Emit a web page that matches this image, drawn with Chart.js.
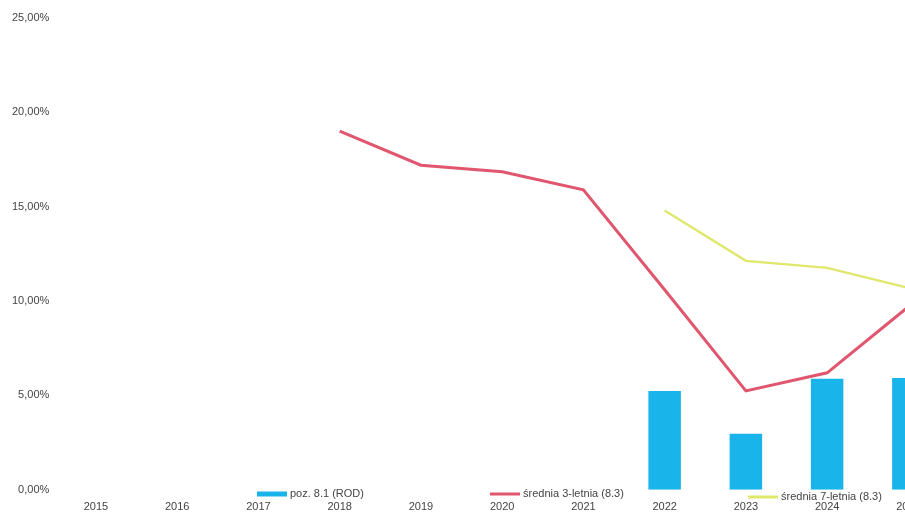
<!DOCTYPE html>
<html>
<head>
<meta charset="utf-8">
<script src="https://cdn.jsdelivr.net/npm/chart.js@4.4.1/dist/chart.umd.min.js"></script>
<style>
  html, body { margin: 0; padding: 0; background: #fff; overflow: hidden; }
  #wrap { position: relative; width: 953px; height: 525px; }
</style>
</head>
<body>
<div id="wrap"><canvas id="chart"></canvas></div>
<script>
const years = ['2015', '2016', '2017', '2018', '2019', '2020', '2021', '2022', '2023', '2024', '2025'];
const poz81 = [null, null, null, null, null, null, null, 5.24, 2.97, 5.88, 5.93];
const avg3 = [null, null, null, 19.0, 17.2, 16.85, 15.9, 10.6, 5.24, 6.2, 9.7];
const avg7 = [null, null, null, null, null, null, null, 14.8, 12.13, 11.76, 10.7];
const yTicks = [0, 5, 10, 15, 20, 25];

const fmt = v => v.toFixed(2).replace('.', ',') + '%';

// legend drawn on top of the axis area like in the scanned original
const overlayLegend = {
  id: 'overlayLegend',
  afterDraw(chart) {
    const ctx = chart.ctx;
    const items = [
      { x: 257, y: 494, color: '#18b4ea', h: 5, text: 'poz. 8.1 (ROD)' },
      { x: 490, y: 494, color: '#e0566e', h: 3, text: 'średnia 3-letnia (8.3)' },
      { x: 748, y: 497, color: '#dfe86a', h: 3, text: 'średnia 7-letnia (8.3)' }
    ];
    ctx.save();
    ctx.font = '11px "Liberation Sans", Arial, sans-serif';
    ctx.textBaseline = 'middle';
    items.forEach(it => {
      ctx.fillStyle = it.color;
      ctx.fillRect(it.x, it.y - it.h / 2, 30, it.h);
      ctx.fillStyle = '#444';
      ctx.fillText(it.text, it.x + 33, it.y);
    });
    ctx.restore();
  }
};

new Chart(document.getElementById('chart'), {
  data: {
    labels: years,
    datasets: [
      {
        type: 'line',
        label: 'średnia 3-letnia (8.3)',
        data: avg3,
        borderColor: '#e0566e',
        borderWidth: 3,
        pointRadius: 0,
        tension: 0,
        order: 1
      },
      {
        type: 'line',
        label: 'średnia 7-letnia (8.3)',
        data: avg7,
        borderColor: '#dfe86a',
        borderWidth: 2.5,
        pointRadius: 0,
        tension: 0,
        order: 2
      },
      {
        type: 'bar',
        label: 'poz. 8.1 (ROD)',
        data: poz81,
        backgroundColor: '#18b4ea',
        barPercentage: 0.4,
        categoryPercentage: 1,
        order: 3
      }
    ]
  },
  options: {
    responsive: true,
    maintainAspectRatio: false,
    animation: false,
    layout: { padding: { top: 18, left: 6, right: 4, bottom: 0 } },
    plugins: {
      legend: { display: false },
      tooltip: { enabled: false }
    },
    scales: {
      x: {
        offset: true,
        grid: { display: false, drawTicks: false },
        border: { display: false },
        ticks: {
          color: '#444',
          padding: 11,
          maxRotation: 0,
          autoSkip: false,
          font: { family: '"Liberation Sans", Arial, sans-serif', size: 11 }
        }
      },
      y: {
        min: 0,
        max: 25,
        afterBuildTicks: axis => { axis.ticks = yTicks.map(v => ({ value: v })); },
        grid: { display: false, drawTicks: false },
        border: { display: false },
        ticks: {
          color: '#444',
          padding: 6,
          callback: v => fmt(v),
          font: { family: '"Liberation Sans", Arial, sans-serif', size: 11 }
        }
      }
    }
  },
  plugins: [overlayLegend]
});
</script>
</body>
</html>
